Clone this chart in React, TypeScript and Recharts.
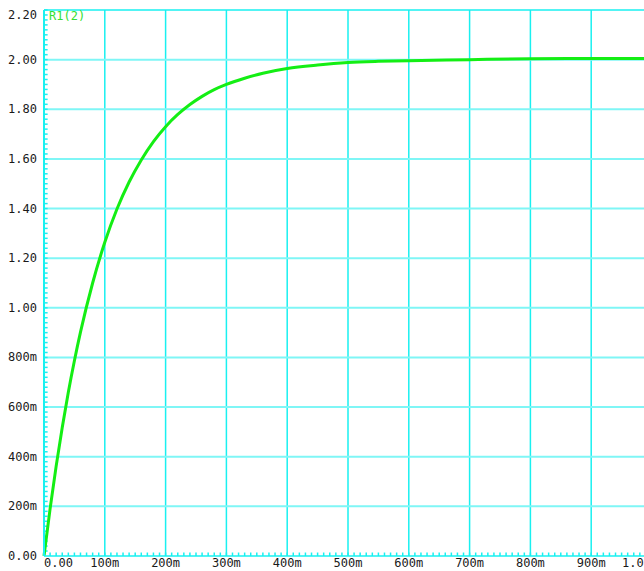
import { LineChart, Line, XAxis, YAxis, CartesianGrid, ReferenceLine } from 'recharts'

// values (seconds, volts)
const TIME = [
  0, 0.01, 0.02, 0.03, 0.04, 0.05, 0.06, 0.08, 0.1, 0.12, 0.14, 0.16, 0.18, 0.2, 0.22, 0.24, 0.26,
  0.28, 0.3, 0.33, 0.36, 0.4, 0.45, 0.5, 0.55, 0.6, 0.7, 0.8, 0.9, 1.0,
]
const R1_2 = [
  0, 0.19, 0.362, 0.518, 0.66, 0.787, 0.902, 1.1, 1.264, 1.398, 1.507, 1.596, 1.67, 1.73, 1.779,
  1.819, 1.852, 1.879, 1.9, 1.925, 1.945, 1.964, 1.978, 1.988, 1.993, 1.996, 2.0, 2.004, 2.005, 2.005,
]

const X_TICKS = [0, 0.1, 0.2, 0.3, 0.4, 0.5, 0.6, 0.7, 0.8, 0.9, 1.0]
const X_LABELS = ['0.00', '100m', '200m', '300m', '400m', '500m', '600m', '700m', '800m', '900m', '1.0']
const Y_TICKS = [0, 0.2, 0.4, 0.6, 0.8, 1.0, 1.2, 1.4, 1.6, 1.8, 2.0, 2.2]
const Y_LABELS = ['0.00', '200m', '400m', '600m', '800m', '1.00', '1.20', '1.40', '1.60', '1.80', '2.00', '2.20']
const H_GRID = [0.2, 0.4, 0.6, 0.8, 1.0, 1.2, 1.4, 1.6, 1.8, 2.0]
const V_GRID = [0.1, 0.2, 0.3, 0.4, 0.5, 0.6, 0.7, 0.8, 0.9, 1.0]

const data = TIME.map((t, i) => ({ t, v: R1_2[i] }))

// minor tick positions along the axes
const X_MINOR = Array.from({ length: 100 }, (_, i) => (i + 1) / 100)
const Y_MINOR = Array.from({ length: 110 }, (_, i) => ((i + 1) * 2) / 100)

const CYAN = '#19f0f0'
const FONT = '"DejaVu Sans Mono", monospace'

const XTick = ({ x, y, payload }: any) => {
  const idx = X_TICKS.findIndex((v) => Math.abs(v - payload.value) < 1e-9)
  const label = X_LABELS[idx] ?? ''
  let anchor: 'start' | 'middle' | 'end' = 'middle'
  let dx = 0
  if (idx === 0) anchor = 'start'
  if (idx === X_TICKS.length - 1) {
    anchor = 'start'
    dx = -30
  }
  return (
    <text x={x + dx} y={y + 11} textAnchor={anchor} fontFamily={FONT} fontSize={12} fill="#1a1a1a">
      {label}
    </text>
  )
}

const YTick = ({ x, y, payload }: any) => {
  const idx = Y_TICKS.findIndex((v) => Math.abs(v - payload.value) < 1e-9)
  // top label sits a little below its line, like the scope's
  const dy = idx === Y_TICKS.length - 1 ? 9 : 4
  return (
    <text x={x + 1} y={y + dy} textAnchor="end" fontFamily={FONT} fontSize={12} fill="#1a1a1a">
      {Y_LABELS[idx] ?? ''}
    </text>
  )
}

export default function App() {
  return (
    <div style={{ position: 'absolute', left: 0, top: 0, width: 644, height: 571, overflow: 'hidden', background: '#fff' }}>
      <LineChart width={660} height={571} data={data} margin={{ top: 10, right: 8, left: 0, bottom: 0 }}>
        <CartesianGrid horizontal={false} verticalValues={V_GRID} stroke={CYAN} strokeWidth={1.5} />
        <CartesianGrid vertical={false} horizontalValues={H_GRID} stroke="#7ff6f6" strokeWidth={2} />
        <XAxis
          dataKey="t"
          type="number"
          domain={[0, 1]}
          ticks={X_TICKS}
          tickLine={false}
          tickSize={0}
          tickMargin={0}
          axisLine={{ stroke: CYAN, strokeWidth: 1.5 }}
          height={15}
          tick={<XTick />}
          interval={0}
        />
        <YAxis
          type="number"
          domain={[0, 2.2]}
          ticks={Y_TICKS}
          width={44}
          tickLine={false}
          axisLine={{ stroke: CYAN, strokeWidth: 2 }}
          tick={<YTick />}
          interval={0}
        />
        <ReferenceLine y={2.2} stroke={CYAN} strokeWidth={1.5} />
        {X_MINOR.map((v) => (
          <ReferenceLine
            key={'xm' + v}
            segment={[
              { x: v, y: 0 },
              { x: v, y: 0.014 },
            ]}
            stroke={CYAN}
            strokeWidth={1.5}
            ifOverflow="visible"
          />
        ))}
        {Y_MINOR.map((v) => (
          <ReferenceLine
            key={'ym' + v}
            segment={[
              { x: 0, y: v },
              { x: 0.006, y: v },
            ]}
            stroke={CYAN}
            strokeWidth={1.5}
            ifOverflow="visible"
          />
        ))}
        <Line
          type="monotone"
          dataKey="v"
          stroke="#14ee14"
          strokeWidth={3}
          dot={false}
          isAnimationActive={false}
        />
      </LineChart>
      <div
        style={{
          position: 'absolute',
          left: 49,
          top: 9,
          fontFamily: FONT,
          fontSize: 12,
          color: '#33e033',
        }}
      >
        R1(2)
      </div>
    </div>
  )
}
